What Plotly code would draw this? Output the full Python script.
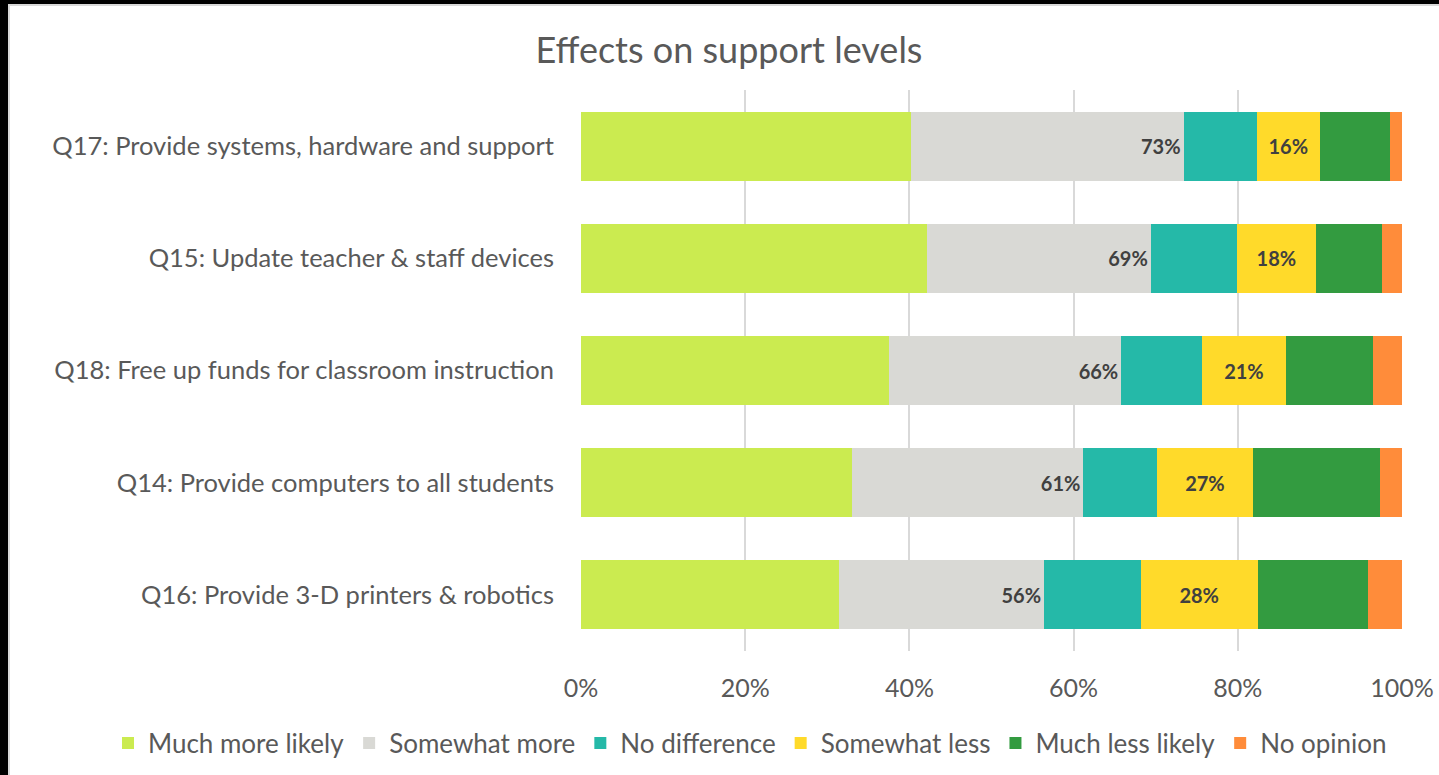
import plotly.graph_objects as go

# Survey items, listed top to bottom
categories = [
    "Q17: Provide systems, hardware and support",
    "Q15: Update teacher & staff devices",
    "Q18: Free up funds for classroom instruction",
    "Q14: Provide computers to all students",
    "Q16: Provide 3-D printers & robotics",
]

# Share of responses (%) per answer
much_more_likely = [40.2, 42.1, 37.5, 33.0, 31.4]
somewhat_more = [33.2, 27.3, 28.3, 28.2, 25.0]
no_difference = [8.9, 10.5, 9.8, 9.0, 11.8]
somewhat_less = [7.7, 9.6, 10.3, 11.6, 14.2]
much_less_likely = [8.5, 8.1, 10.6, 15.5, 13.5]
no_opinion = [1.5, 2.4, 3.5, 2.7, 4.1]

series_names = ["Much more likely", "Somewhat more", "No difference",
                "Somewhat less", "Much less likely", "No opinion"]
series_values = [much_more_likely, somewhat_more, no_difference,
                 somewhat_less, much_less_likely, no_opinion]
series_colors = ["#CBEB50", "#D9D9D5", "#25B9A8", "#FFDA2A", "#339B40", "#FF8C3A"]

x_ticks = [0, 20, 40, 60, 80, 100]
x_tick_labels = ["0%", "20%", "40%", "60%", "80%", "100%"]

# Combined "more" and "less" totals shown as labels
more_totals = [a + b for a, b in zip(much_more_likely, somewhat_more)]
less_totals = [a + b for a, b in zip(somewhat_less, much_less_likely)]

FONT = "Lato, 'Open Sans', sans-serif"
TEXT_GREY = "#595959"

fig = go.Figure()
for name, vals, color in zip(series_names, series_values, series_colors):
    kw = {}
    if name == "Somewhat more":
        kw = dict(text=[f"{v:.0f}%" for v in more_totals],
                  textposition="inside", insidetextanchor="end")
    elif name == "Somewhat less":
        kw = dict(text=[f"{v:.0f}%" for v in less_totals],
                  textposition="inside", insidetextanchor="middle")
    fig.add_trace(go.Bar(
        y=categories, x=vals, name=name, orientation="h",
        marker=dict(color=color, line=dict(width=0)),
        textfont=dict(family=FONT, size=20, color="#404040", weight="bold"),
        textangle=0, constraintext="none",
        **kw,
    ))

fig.update_layout(
    barmode="stack",
    bargap=0.385,
    width=1439, height=775,
    margin=dict(l=581, r=37, t=90, b=124, autoexpand=False),
    paper_bgcolor="black",
    plot_bgcolor="white",
    font=dict(family=FONT, color=TEXT_GREY, size=25),
    title=dict(text="Effects on support levels", x=0.5066, xref="container",
               xanchor="center", y=1 - 50 / 775, yref="container", yanchor="middle",
               font=dict(size=36, color=TEXT_GREY, family=FONT)),
    legend=dict(orientation="h", xref="paper", x=(108 - 581) / 821, xanchor="left",
                yref="paper", y=(651 - 743) / 561, yanchor="middle",
                bgcolor="rgba(0,0,0,0)",
                font=dict(size=26, color=TEXT_GREY), traceorder="normal",
                itemclick=False),
    xaxis=dict(range=[0, 100], tickvals=x_ticks, ticktext=x_tick_labels,
               showgrid=True, gridcolor="#D9D9D9", gridwidth=1.5,
               zeroline=False, showline=False, ticks="",
               tickfont=dict(size=25, color=TEXT_GREY), ticklabelstandoff=20),
    yaxis=dict(autorange="reversed", showgrid=False, zeroline=False,
               showline=False, ticks="", ticklabelstandoff=26,
               tickfont=dict(size=25.5, color=TEXT_GREY)),
    shapes=[
        # white page with a thin grey rim, inset from the black frame
        dict(type="rect", xref="paper", yref="paper",
             x0=(9 - 581) / 821, x1=(1460 - 581) / 821,
             y0=1 + (90 - 800) / 561, y1=1 + (90 - 5) / 561,
             fillcolor="white", line=dict(color="#D9D9D9", width=2), layer="below"),
    ],
)

fig.write_html("out.html")
